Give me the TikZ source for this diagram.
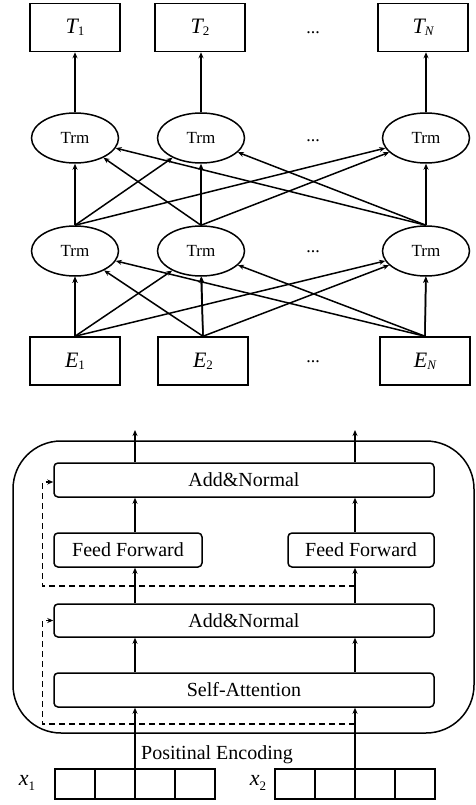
\documentclass[tikz,border=0pt]{standalone}
\usepackage{fontspec}
\setmainfont{Liberation Serif}
\usetikzlibrary{arrows.meta,shapes.geometric}
% symbol with a lowered subscript
\newcommand{\symsub}[2]{{\fontsize{22}{24}\selectfont\itshape #1}\raisebox{-0.5ex}{\fontsize{13}{14}\selectfont #2}}
\tikzset{
  tok/.style={draw, line width=1.5pt, minimum width=90pt, minimum height=48pt, inner sep=0pt},
  trm/.style={ellipse, draw, line width=1.5pt, minimum width=87pt, minimum height=50pt, inner sep=0pt, font=\fontsize{17}{20}\selectfont},
  dots/.style={font=\fontsize{18}{20}\selectfont, inner sep=0pt},
  arr/.style={line width=1.5pt, -{Stealth[length=6pt,width=5pt]}},
  layer/.style={draw, rounded corners=4pt, line width=1.5pt, minimum height=34pt, inner sep=0pt, font=\fontsize{20}{24}\selectfont},
  skip/.style={arr, dash pattern=on 6pt off 4pt},
  cell/.style={draw, line width=1.5pt, minimum width=40pt, minimum height=30pt, inner sep=0pt, outer sep=0pt},
  lbl/.style={font=\fontsize{20}{24}\selectfont, inner sep=0pt},
}
\begin{document}
\begin{tikzpicture}[x=1pt, y=-1pt]
\useasboundingbox (0,0) rectangle (475,805);

% ---------- stacked bidirectional encoder ----------
\node[tok] (T1) at (75,27.5) {\symsub{T}{1}};
\node[tok] (T2) at (200,27.5) {\symsub{T}{2}};
\node[tok] (TN) at (423,27.5) {\symsub{T}{\itshape N}};
\node[dots] (tdots) at (313,33) {...};

\node[trm] (u1) at (75,138) {Trm};
\node[trm] (u2) at (201,138) {Trm};
\node[trm] (uN) at (426,138) {Trm};
\node[dots] (udots) at (313,141) {...};

\node[trm] (l1) at (75,251) {Trm};
\node[trm] (l2) at (201,251) {Trm};
\node[trm] (lN) at (426,251) {Trm};
\node[dots] (ldots) at (313,252) {...};

\node[tok] (E1) at (75,361) {\symsub{E}{1}};
\node[tok] (E2) at (203,361) {\symsub{E}{2}};
\node[tok] (EN) at (425,361) {\symsub{E}{\itshape N}};
\node[dots] (edots) at (313,362) {...};

\draw[arr] (u1.north) -- (T1.south -| u1.north);
\draw[arr] (u2.north) -- (T2.south -| u2.north);
\draw[arr] (uN.north) -- (TN.south -| uN.north);

\foreach \s in {l1,l2,lN} {
  \foreach \t in {u1,u2,uN} {
    \draw[arr] (\s.north) -- (\t);
  }
}
\foreach \s/\d in {E1/l1,E2/l2,EN/lN} {
  \draw[arr] (\s.north) -- (\d.south);
}
\foreach \s in {E1,E2,EN} {
  \foreach \t in {l1,l2,lN} {
    \draw[arr] (\s.north) -- (\t);
  }
}

% ---------- encoder block ----------
\draw[line width=1.5pt, rounded corners=48pt] (13,441) rectangle (474,733);

\node[layer, minimum width=380pt] (an2) at (244,480) {Add\&Normal};
\node[layer, minimum width=148pt] (ffL) at (128,550) {Feed Forward};
\node[layer, minimum width=146pt] (ffR) at (361,550) {Feed Forward};
\node[layer, minimum width=380pt, minimum height=33pt] (an1) at (244,620.5) {Add\&Normal};
\node[layer, minimum width=380pt] (sa) at (244,690) {Self-Attention};

\coordinate (cl) at (135,0);
\coordinate (cr) at (355,0);
\coordinate (oL) at (135,430);
\coordinate (oR) at (355,430);

% input vectors
\node[lbl] (x1) at (27,783) {\symsub{x}{1}};
\node[cell] (a1) at (75,784) {};
\node[cell] (a2) at (115,784) {};
\node[cell] (a3) at (155,784) {};
\node[cell] (a4) at (195,784) {};
\node[lbl] (x2) at (258,783) {\symsub{x}{2}};
\node[cell] (b1) at (295,784) {};
\node[cell] (b2) at (335,784) {};
\node[cell] (b3) at (375,784) {};
\node[cell] (b4) at (415,784) {};
\node[lbl] (pe) at (217,755) {Positinal Encoding};

% main data path
\draw[arr] (a2.north east) -- (sa.south -| a2.north east);
\draw[arr] (b2.north east) -- (sa.south -| b2.north east);
\draw[arr] (sa.north -| cl) -- (an1.south -| cl);
\draw[arr] (sa.north -| cr) -- (an1.south -| cr);
\draw[arr] (an1.north -| cl) -- (ffL.south -| cl);
\draw[arr] (an1.north -| cr) -- (ffR.south -| cr);
\draw[arr] (ffL.north -| cl) -- (an2.south -| cl);
\draw[arr] (ffR.north -| cr) -- (an2.south -| cr);
\draw[arr] (an2.north -| cl) -- (oL);
\draw[arr] (an2.north -| cr) -- (oR);

% residual connections
\coordinate (r1) at (355,724);
\coordinate (r2) at (355,586);
\draw[skip] (r1) -| ([xshift=-11pt]an1.west) -- (an1.west);
\draw[skip] (r2) -| ([xshift=-11pt, yshift=-2pt]an2.west) -- ([yshift=-2pt]an2.west);
\end{tikzpicture}
\end{document}
